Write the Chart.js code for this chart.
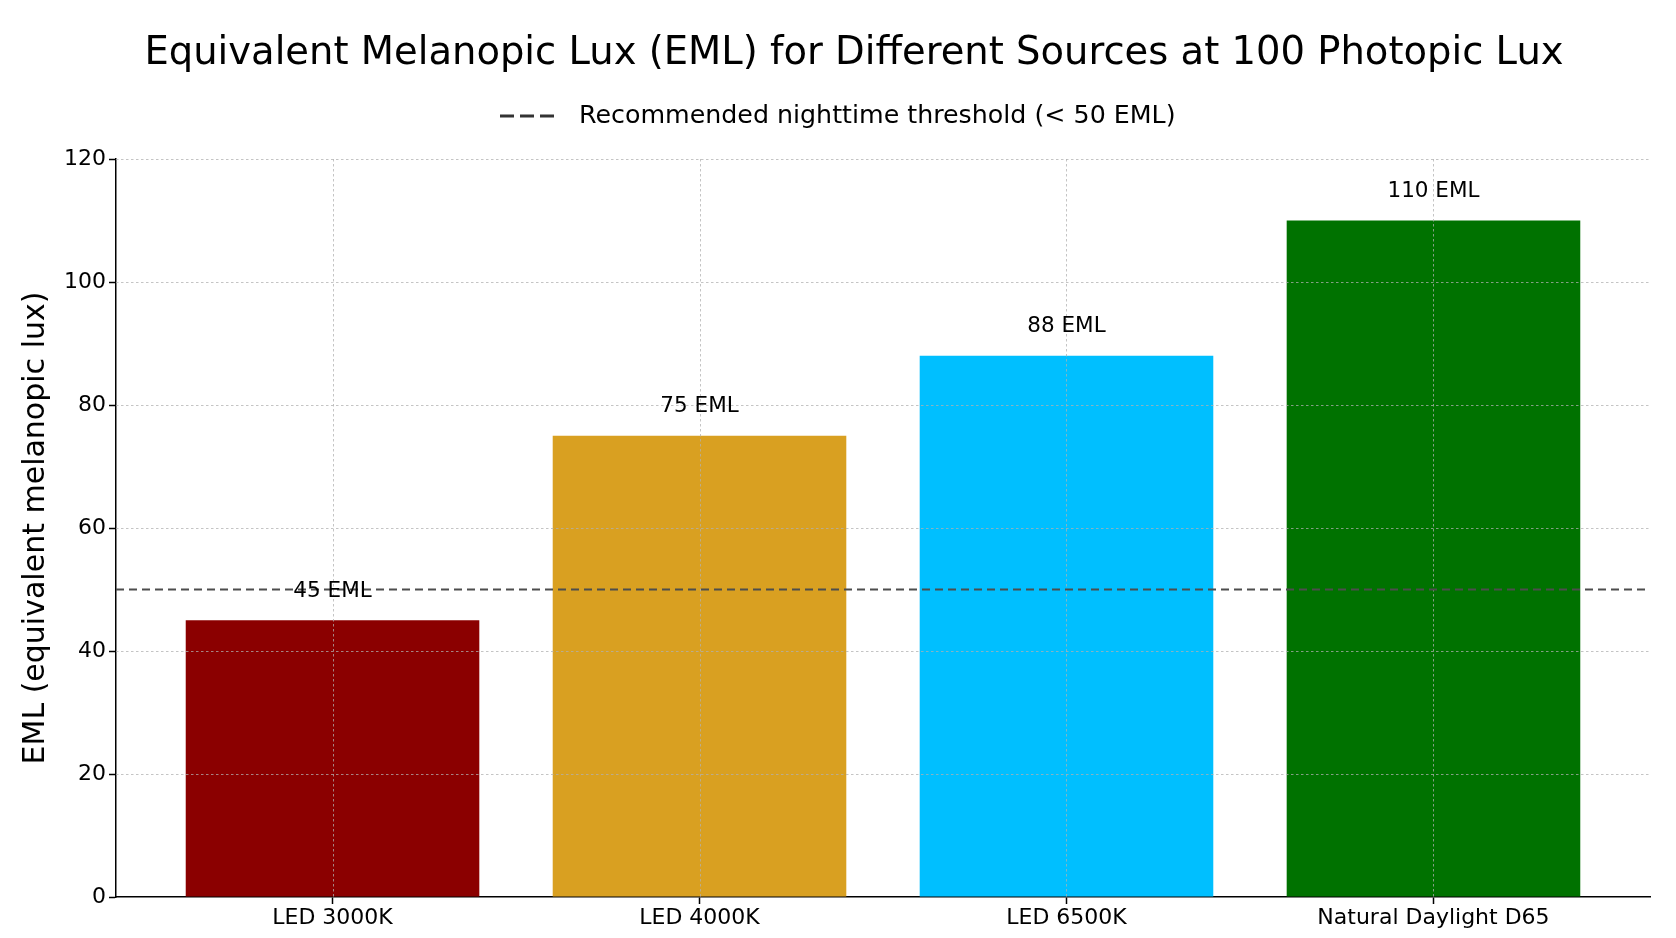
<!DOCTYPE html>
<html>
<head>
<meta charset="utf-8">
<script src="https://cdn.jsdelivr.net/npm/chart.js@4"></script>
<style>
  html, body { margin: 0; padding: 0; background: #ffffff; }
  canvas { display: block; }
</style>
</head>
<body>
<canvas id="c" width="1676" height="938"></canvas>
<script>
const chartTitle = 'Equivalent Melanopic Lux (EML) for Different Sources at 100 Photopic Lux';
const yAxisTitle = 'EML (equivalent melanopic lux)';
const categories = ['LED 3000K', 'LED 4000K', 'LED 6500K', 'Natural Daylight D65'];
const emlValues = [45, 75, 88, 110];
const barColors = ['#8B0000', '#D9A021', '#00BFFF', '#007200'];
const valueLabels = ['45 EML', '75 EML', '88 EML', '110 EML'];
const thresholdValue = 50;
const thresholdLabel = 'Recommended nighttime threshold (< 50 EML)';
const yTicks = [0, 20, 40, 60, 80, 100, 120];
const xMin = -0.59, xMax = 3.59;

const FONT = "'DejaVu Sans', sans-serif";

const overlay = {
  id: 'overlay',
  afterDatasetDraw(chart, args) {
    if (args.index !== 0) return;
    const ctx = chart.ctx, a = chart.chartArea;
    const xs = chart.scales.x, ys = chart.scales.y;
    ctx.save();
    ctx.strokeStyle = 'rgba(176,176,176,0.75)';
    ctx.lineWidth = 1;
    ctx.setLineDash([2.5, 2.5]);
    yTicks.forEach(v => {
      if (v === 0) return;
      const y = Math.round(ys.getPixelForValue(v)) + 0.5;
      ctx.beginPath(); ctx.moveTo(a.left, y); ctx.lineTo(a.right, y); ctx.stroke();
    });
    categories.forEach((c, i) => {
      const x = Math.round(xs.getPixelForValue(i)) + 0.5;
      ctx.beginPath(); ctx.moveTo(x, a.top); ctx.lineTo(x, a.bottom); ctx.stroke();
    });
    ctx.restore();
  },
  afterDraw(chart) {
    const ctx = chart.ctx, a = chart.chartArea;
    const xs = chart.scales.x, ys = chart.scales.y;
    ctx.save();
    ctx.fillStyle = '#000';
    // value labels
    ctx.font = '21.5px ' + FONT;
    ctx.textAlign = 'center';
    ctx.textBaseline = 'middle';
    emlValues.forEach((v, i) => {
      ctx.fillText(valueLabels[i], xs.getPixelForValue(i), ys.getPixelForValue(v) - 29);
    });
    // title
    ctx.font = '38.5px ' + FONT;
    ctx.fillText(chartTitle, 854, 54);
    // legend
    ctx.font = '25.3px ' + FONT;
    ctx.textAlign = 'left';
    ctx.fillText(thresholdLabel, 579, 116);
    ctx.strokeStyle = '#333';
    ctx.lineWidth = 3;
    ctx.setLineDash([14, 6]);
    ctx.beginPath(); ctx.moveTo(500, 116); ctx.lineTo(554, 116); ctx.stroke();
    ctx.setLineDash([]);
    // y axis title
    ctx.translate(36, (a.top + a.bottom) / 2);
    ctx.rotate(-Math.PI / 2);
    ctx.textAlign = 'center';
    ctx.font = '30px ' + FONT;
    ctx.fillText(yAxisTitle, 0, 0);
    ctx.restore();
  }
};

new Chart(document.getElementById('c'), {
  data: {
    datasets: [
      {
        type: 'bar',
        order: 1,
        data: emlValues.map((v, i) => ({ x: i, y: v })),
        backgroundColor: barColors,
        borderWidth: 0,
        categoryPercentage: 1.0,
        barPercentage: 0.8
      },
      {
        type: 'line',
        order: 0,
        data: [{ x: xMin, y: thresholdValue }, { x: xMax, y: thresholdValue }],
        borderColor: '#4d4d4d',
        borderWidth: 2,
        borderDash: [8, 5],
        pointRadius: 0,
        fill: false
      }
    ]
  },
  options: {
    responsive: false,
    animation: false,
    events: [],
    layout: { padding: { left: 0, right: 26, top: 159, bottom: 0 } },
    plugins: { legend: { display: false }, tooltip: { enabled: false }, title: { display: false } },
    scales: {
      x: {
        type: 'linear',
        min: xMin,
        max: xMax,
        offset: false,
        afterBuildTicks: s => { s.ticks = categories.map((c, i) => ({ value: i })); },
        afterFit: s => { s.height = 41; },
        border: { display: true, color: '#000', width: 1.5 },
        grid: { offset: false, drawOnChartArea: false, drawTicks: true, tickLength: 7, tickColor: '#000', tickWidth: 1.5 },
        ticks: {
          padding: 1,
          color: '#000',
          font: { family: FONT, size: 22 },
          callback: v => categories[v],
          autoSkip: false,
          maxRotation: 0
        }
      },
      y: {
        type: 'linear',
        min: 0,
        max: 120,
        afterBuildTicks: s => { s.ticks = yTicks.map(v => ({ value: v })); },
        afterFit: s => { s.width = 116; },
        border: { display: true, color: '#000', width: 1.5 },
        grid: { drawOnChartArea: false, drawTicks: true, tickLength: 7, tickColor: '#000', tickWidth: 1.5 },
        ticks: {
          padding: 3,
          color: '#000',
          font: { family: FONT, size: 22 }
        }
      }
    }
  },
  plugins: [overlay]
});
</script>
</body>
</html>
